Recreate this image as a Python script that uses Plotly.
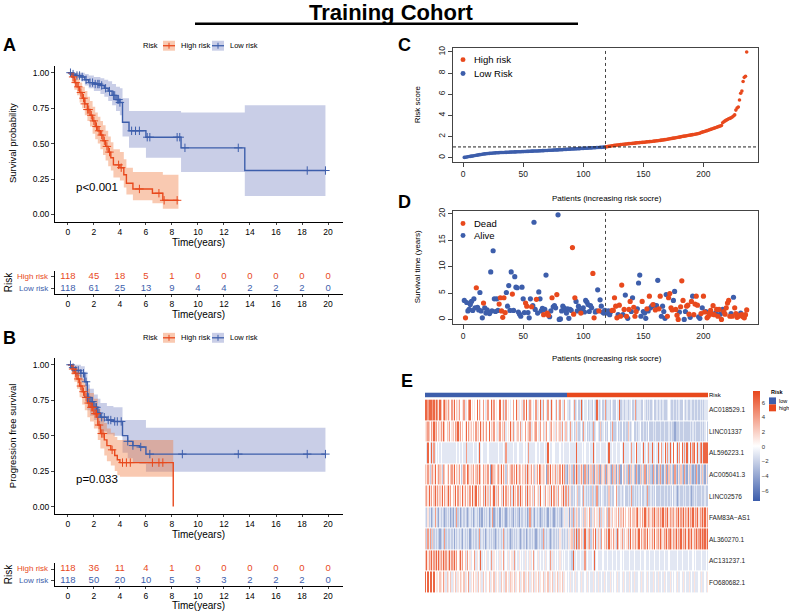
import plotly.graph_objects as go

W, H = 789, 613
RED = "#E8491D"
BLUE = "#3D5EAB"
RED_FILL = "rgba(240,120,60,0.40)"
BLUE_FILL = "rgba(60,80,170,0.28)"
FONT = "Arial, Liberation Sans, sans-serif"

# ---------------- Kaplan-Meier: overall survival (A) ----------------
a_hi_t = [0, 0.3, 0.5, 0.7, 0.9, 1.1, 1.3, 1.5, 1.7, 1.9, 2.1, 2.3, 2.5, 2.7, 2.9, 3.1, 3.3, 3.5, 4.0, 4.3, 4.5, 5.0, 6.5, 7.3, 8.5]
a_hi_s = [1, 0.97, 0.93, 0.90, 0.86, 0.82, 0.78, 0.74, 0.70, 0.66, 0.62, 0.59, 0.56, 0.52, 0.48, 0.44, 0.40, 0.35, 0.33, 0.28, 0.22, 0.18, 0.15, 0.10, 0.10]
a_hi_up = [1, 1, 0.98, 0.96, 0.93, 0.90, 0.87, 0.83, 0.80, 0.76, 0.72, 0.69, 0.66, 0.63, 0.59, 0.55, 0.51, 0.46, 0.44, 0.39, 0.33, 0.30, 0.30, 0.28, 0.28]
a_hi_lo = [1, 0.93, 0.88, 0.84, 0.79, 0.75, 0.70, 0.66, 0.62, 0.57, 0.53, 0.50, 0.46, 0.42, 0.38, 0.34, 0.31, 0.26, 0.24, 0.19, 0.14, 0.10, 0.08, 0.04, 0.04]
a_hi_cens = [0.4, 0.6, 0.8, 1.0, 1.2, 1.3, 1.5, 1.6, 1.8, 2.0, 2.2, 2.4, 2.6, 2.8, 3.0, 3.2, 3.9, 4.1, 5.5, 7.0, 7.4, 8.4]

a_lo_t = [0, 0.3, 0.6, 1.0, 1.3, 1.6, 2.0, 2.5, 2.8, 3.1, 3.4, 3.7, 4.0, 4.2, 4.7, 6.0, 8.7, 13.6, 19.8]
a_lo_s = [1, 0.99, 0.98, 0.97, 0.95, 0.93, 0.92, 0.91, 0.89, 0.87, 0.84, 0.81, 0.79, 0.65, 0.59, 0.545, 0.47, 0.31, 0.31]
a_lo_up = [1, 1, 1, 1, 0.99, 0.98, 0.97, 0.96, 0.95, 0.94, 0.92, 0.90, 0.89, 0.82, 0.73, 0.73, 0.72, 0.77, 0.77]
a_lo_lo = [1, 0.97, 0.96, 0.94, 0.91, 0.89, 0.87, 0.85, 0.83, 0.80, 0.77, 0.73, 0.70, 0.55, 0.47, 0.40, 0.30, 0.13, 0.13]
a_lo_cens = [0.2, 0.4, 0.7, 0.9, 1.1, 1.4, 1.7, 1.9, 2.1, 2.3, 2.4, 2.6, 2.9, 3.2, 3.5, 3.6, 3.8, 3.9, 4.0,
             4.9, 5.2, 5.5, 6.1, 6.3, 8.4, 8.6, 9.0, 13.1, 18.4, 19.8]

# ---------------- Kaplan-Meier: progression free survival (B) ----------------
b_hi_t = [0, 0.3, 0.5, 0.7, 0.9, 1.1, 1.3, 1.5, 1.7, 2.0, 2.3, 2.5, 2.8, 3.0, 3.3, 3.6, 3.8, 4.0, 8.1]
b_hi_s = [1, 0.97, 0.94, 0.90, 0.85, 0.81, 0.77, 0.73, 0.70, 0.655, 0.575, 0.515, 0.47, 0.43, 0.40, 0.36, 0.33, 0.31, 0.0]
b_hi_up = [1, 1, 0.99, 0.97, 0.93, 0.90, 0.86, 0.83, 0.80, 0.76, 0.69, 0.63, 0.59, 0.55, 0.52, 0.49, 0.47, 0.47, 0.47]
b_hi_lo = [1, 0.93, 0.88, 0.83, 0.77, 0.72, 0.68, 0.63, 0.60, 0.55, 0.47, 0.41, 0.36, 0.32, 0.29, 0.25, 0.22, 0.21, 0.21]
b_hi_cens = [0.4, 0.6, 0.8, 1.0, 1.2, 1.4, 1.6, 1.8, 1.9, 2.1, 2.2, 2.4, 2.6, 2.7, 3.4, 4.2, 4.5, 4.8, 6.5, 7.0, 7.3]

b_lo_t = [0, 0.3, 0.6, 1.0, 1.3, 1.5, 1.7, 2.0, 2.3, 2.5, 3.0, 3.5, 4.0, 4.2, 4.6, 5.0, 5.5, 6.0, 19.8]
b_lo_s = [1, 0.98, 0.96, 0.94, 0.88, 0.77, 0.74, 0.70, 0.66, 0.63, 0.61, 0.60, 0.60, 0.50, 0.46, 0.43, 0.42, 0.37, 0.37]
b_lo_up = [1, 1, 1, 0.99, 0.95, 0.86, 0.83, 0.79, 0.76, 0.73, 0.71, 0.70, 0.70, 0.61, 0.61, 0.61, 0.61, 0.555, 0.555]
b_lo_lo = [1, 0.95, 0.92, 0.88, 0.81, 0.68, 0.64, 0.61, 0.57, 0.53, 0.51, 0.50, 0.50, 0.38, 0.34, 0.31, 0.30, 0.245, 0.245]
b_lo_cens = [0.2, 0.4, 0.6, 0.8, 1.0, 1.2, 1.4, 1.5, 1.6, 1.8, 1.9, 2.1, 2.2, 2.4, 2.6, 2.8, 3.1, 3.3, 3.6, 3.8,
             4.1, 4.6, 5.0, 5.6, 6.3, 8.8, 13.1, 18.4, 19.8]

# number at risk tables
table_times = [0, 2, 4, 6, 8, 10, 12, 14, 16, 18, 20]
a_risk_hi = [118, 45, 18, 5, 1, 0, 0, 0, 0, 0, 0]
a_risk_lo = [118, 61, 25, 13, 9, 4, 4, 2, 2, 2, 0]
b_risk_hi = [118, 36, 11, 4, 1, 0, 0, 0, 0, 0, 0]
b_risk_lo = [118, 50, 20, 10, 5, 3, 3, 2, 2, 2, 0]

# ---------------- risk score curve (C) ----------------
low_scores = [0.03, 0.05, 0.07, 0.09, 0.11, 0.13, 0.15, 0.17, 0.19, 0.21,
              0.23, 0.25, 0.27, 0.29, 0.31, 0.33, 0.35, 0.36, 0.38, 0.39,
              0.40, 0.41, 0.42, 0.43, 0.44, 0.45, 0.46, 0.47, 0.47, 0.48,
              0.49, 0.49, 0.50, 0.50, 0.51, 0.51, 0.52, 0.52, 0.53, 0.53,
              0.54, 0.54, 0.55, 0.55, 0.56, 0.56, 0.57, 0.57, 0.58, 0.58,
              0.59, 0.59, 0.60, 0.60, 0.61, 0.61, 0.62, 0.62, 0.63, 0.63,
              0.64, 0.64, 0.65, 0.65, 0.66, 0.67, 0.67, 0.68, 0.68, 0.69,
              0.70, 0.70, 0.71, 0.71, 0.72, 0.73, 0.73, 0.74, 0.74, 0.75,
              0.76, 0.76, 0.77, 0.78, 0.78, 0.79, 0.80, 0.80, 0.81, 0.82,
              0.82, 0.83, 0.84, 0.84, 0.85, 0.86, 0.86, 0.87, 0.88, 0.88,
              0.89, 0.90, 0.90, 0.91, 0.92, 0.92, 0.93, 0.94, 0.94, 0.95,
              0.96, 0.96, 0.97, 0.98, 0.98, 0.99, 1.00, 1.01]
high_scores = [1.03, 1.05, 1.07, 1.09, 1.11, 1.13, 1.15, 1.17, 1.18, 1.20,
               1.21, 1.23, 1.24, 1.25, 1.27, 1.28, 1.29, 1.30, 1.32, 1.33,
               1.34, 1.35, 1.36, 1.37, 1.38, 1.40, 1.41, 1.42, 1.43, 1.44,
               1.45, 1.46, 1.47, 1.48, 1.50, 1.51, 1.52, 1.53, 1.54, 1.56,
               1.57, 1.58, 1.60, 1.61, 1.63, 1.64, 1.66, 1.68, 1.69, 1.71,
               1.73, 1.75, 1.77, 1.79, 1.81, 1.83, 1.85, 1.87, 1.89, 1.91,
               1.93, 1.95, 1.97, 2.00, 2.02, 2.04, 2.06, 2.08, 2.10, 2.12,
               2.14, 2.16, 2.18, 2.20, 2.22, 2.24, 2.26, 2.29, 2.32, 2.38,
               2.42, 2.45, 2.48, 2.52, 2.56, 2.60, 2.64, 2.68, 2.72, 2.76,
               2.80, 2.84, 2.88, 2.92, 2.96, 3.00, 3.05, 3.30, 3.40, 3.48,
               3.55, 3.62, 3.68, 3.72, 3.78, 3.85, 3.95, 4.05, 4.50, 4.70,
               4.80, 5.45, 6.10, 6.30, 7.20, 7.60, 7.70, 10.00]
cutoff = 1.02

# ---------------- survival time / status (D) ----------------
low_times = [3.6, 0.3, 3.2, 1.6, 1.9, 2.8, 3.4, 1.7, 3.9, 2.2,
             6.0, 2.3, 1.8, 5.1, 1.6, 0.3, 3.1, 2.2, 1.2, 1.8,
             1.4, 1.1, 9.0, 1.6, 13.0, 3.9, 1.5, 3.9, 1.7, 2.9,
             4.1, 1.6, 0.4, 4.1, 1.3, 5.1, 2.5, 6.4, 1.7, 9.0,
             4.8, 1.7, 8.1, 6.1, 6.0, 1.4, 1.0, 0.6, 6.1, 3.9,
             1.3, 3.1, 2.5, 1.3, 0.3, 3.9, 2.4, 2.6, 18.4, 1.9,
             3.8, 1.2, 5.2, 3.9, 1.6, 2.1, 0.9, 1.9, 8.4, 1.2,
             0.8, 0.5, 1.6, 4.1, 2.4, 2.6, 2.2, 4.7, 19.8, 0.0,
             0.1, 1.6, 2.5, 2.2, 1.9, 1.2, 2.0, 0.2, 1.9, 1.7,
             13.6, 1.0, 4.1, 3.4, 1.6, 2.5, 1.8, 1.2, 1.6, 2.2,
             1.4, 3.6, 3.3, 2.8, 1.5, 2.6, 2.2, 8.7, 0.3, 1.4,
             1.6, 5.6, 1.6, 3.7, 2.5, 1.4, 1.2, 1.7]
low_dead = [0, 1, 0, 0, 0, 0, 0, 0, 0, 0,
            1, 0, 0, 0, 0, 0, 1, 0, 0, 0,
            0, 0, 0, 0, 0, 0, 0, 0, 0, 1,
            1, 1, 1, 1, 1, 0, 0, 0, 0, 0,
            1, 0, 0, 0, 0, 0, 0, 0, 0, 0,
            0, 1, 1, 0, 0, 0, 1, 0, 0, 0,
            1, 0, 0, 0, 0, 0, 1, 0, 0, 1,
            1, 0, 0, 1, 0, 0, 0, 1, 0, 0,
            0, 0, 0, 0, 0, 0, 0, 0, 0, 0,
            1, 1, 1, 0, 0, 0, 0, 1, 0, 0,
            0, 0, 0, 0, 0, 0, 0, 1, 1, 0,
            0, 0, 1, 0, 0, 0, 0, 0]
high_times = [1.4, 1.2, 1.6, 0.9, 1.5, 1.7, 1.7, 4.1, 2.5, 0.3,
              0.9, 2.7, 0.6, 6.5, 0.9, 1.9, 4.6, 0.6, 0.2, 1.9,
              3.4, 1.5, 4.1, 2.3, 0.6, 1.5, 2.0, 6.9, 8.4, 0.6,
              3.4, 1.5, 1.2, 0.2, 2.0, 1.6, 4.4, 2.2, 2.5, 2.8,
              2.7, 1.8, 2.6, 7.4, 2.0, 4.4, 0.6, 2.5, 1.5, 0.2,
              4.7, 0.6, 4.1, 4.9, 2.2, 1.8, 3.6, 5.3, 1.9, 0.8,
              0.0, 1.4, 2.4, 7.3, 3.6, 0.0, 1.5, 2.5, 2.7, 1.0,
              0.4, 3.4, 4.4, 0.9, 2.9, 4.4, 2.7, 0.5, 0.2, 1.1,
              2.2, 4.4, 1.4, 1.5, 0.3, 0.6, 1.2, 1.7, 1.0, 2.6,
              0.9, 1.2, 1.9, 0.6, 1.9, 1.0, 0.0, 1.9, 1.5, 1.0,
              2.2, 3.1, 3.6, 0.6, 1.1, 0.6, 4.2, 2.2, 1.1, 0.4,
              0.6, 0.7, 1.2, 0.9, 0.5, 0.3, 0.9, 1.8]
high_dead = [0, 0, 0, 0, 0, 1, 1, 1, 1, 1,
             0, 1, 1, 1, 0, 1, 0, 1, 0, 1,
             1, 0, 0, 1, 1, 1, 0, 0, 0, 0,
             1, 0, 0, 0, 1, 0, 1, 0, 0, 1,
             0, 1, 0, 0, 1, 1, 0, 0, 0, 0,
             0, 1, 1, 1, 1, 1, 0, 0, 1, 1,
             1, 0, 1, 1, 1, 0, 0, 1, 1, 1,
             0, 1, 0, 1, 1, 1, 1, 0, 0, 1,
             0, 1, 1, 0, 1, 1, 1, 1, 1, 1,
             1, 0, 1, 1, 1, 0, 1, 0, 1, 1,
             1, 1, 1, 1, 0, 1, 0, 1, 1, 1,
             1, 1, 0, 1, 1, 1, 1, 1]

# ---------------- expression heatmap (E) ----------------
genes = ["AC018529.1", "LINC01337", "AL596223.1", "AC005041.3", "LINC02576",
         "FAM83A\u2212AS1", "AL360270.1", "AC131237.1", "FO680682.1"]
# one character per patient, low-risk block then high-risk block
expr_low = [
    "8878887868 7586478657 5475846574 4573547845 4548475474 3574485745 4484573745 4347448534 5374843754 3473548374 4374385437 43743374",
    "5676475867 4657586465 7456476857 4645847564 6475648574 5748465745 3574657345 4857345647 3547456735 4674537463 5743674536 45637436",
    "4384383734 3434333333 3333334343 3433733333 4334383433 3343333333 3433343733 3334333433 3343437333 3343343334 3384334433 33433433",
    "6575267584 5765276457 4675846574 2576487565 7467586475 6574187654 6758475264 5675748576 4657386574 6257487565 4175846573 65748572",
    "6758574685 7565847568 5746584756 4857465748 5684756473 8563745836 5746384756 4738564738 5647385646 3745638453 7456384756 37465837",
    "3252312373 2132321232 3121327231 2323212323 1232312132 3231237123 2313232123 2321323213 2232312723 2132321232 3213232123 23212353",
    "6273726232 3212327232 2323132323 2132323123 2323272323 1232323212 3232372323 2123232321 2323123232 3212323272 3232123232 32532323",
    "6857685768 5867586756 8576857468 5746374534 4735438343 4534373543 4353473435 3453734354 3435343534 7343534343 5343735343 43534343",
    "8484884845 5465475365 4635463546 5463547354 6453645364 3546354635 4536453645 3654635463 5463546354 6354635463 5463546354 63546354",
]
expr_high = [
    "3323437234 2382433423 3243283234 2372332432 2433823323 3233423723 3322432323 2342232332 3222343223 2323322432 3223323223 23232333",
    "3437342363 2342734232 3272343262 3423242372 2342324223 2632342232 3422323242 2232322232 2322232322 1222322322 2223232322 23232342",
    "3343333383 3334343334 3383433343 3334383343 3433343833 3343733483 3343834373 3833438347 3483738348 4383748373 8348378438 37838888",
    "1565271586 2575172615 6271562716 5271652172 6152714625 2716252172 1625271526 2172516272 1527162521 7215262172 1526212172 15262152",
    "3735232436 2342732323 2623272324 3223262322 4732232342 2323723232 3242232722 3232422232 2322323242 3212322323 2232123232 22322322",
    "3515272365 2435263547 2536453726 3546275364 5647365746 4657466578 5647586576 5768567576 8576857667 5768576857 6857685768 57686857",
    "2535627382 7465283567 2574836527 4657385647 5286457364 5738465756 8475675846 5758467586 5768578657 6857685768 5876857686 78687868",
    "3433283343 3433373433 3438343333 4333433343 3433343433 3343334333 3433343334 3334333433 3433343333 3343334333 3433343433 33433343",
    "3435343533 4353343534 3353435334 3534335343 4353343534 3353435333 4353343534 3353435334 3534335343 4353343534 3353435333 43533435",
]
levels = {"0": -6.0, "1": -4.0, "2": -2.3, "3": -1.1, "4": 0.0, "5": 1.1, "6": 2.3, "7": 4.0, "8": 6.2}


def px(x):
    return x / W


def py(y):
    return 1 - y / H


def dom_x(a, b):
    return [a / W, b / W]


def dom_y(top, bottom):
    return [1 - bottom / H, 1 - top / H]


def step_at(ts, ss, t):
    v = ss[0]
    for ti, si in zip(ts, ss):
        if ti <= t:
            v = si
    return v


fig = go.Figure()


def km_panel(xa, ya, curves):
    # bands first, then lines, then censor marks
    for t, s, up, lo, cens, col, fill in curves:
        fig.add_trace(go.Scatter(x=t, y=up, mode="lines", line=dict(width=0, shape="hv"),
                                 xaxis=xa, yaxis=ya, hoverinfo="skip"))
        fig.add_trace(go.Scatter(x=t, y=lo, mode="lines", line=dict(width=0, shape="hv"),
                                 fill="tonexty", fillcolor=fill, xaxis=xa, yaxis=ya, hoverinfo="skip"))
    for t, s, up, lo, cens, col, fill in curves:
        fig.add_trace(go.Scatter(x=t, y=s, mode="lines", line=dict(color=col, width=1.4, shape="hv"),
                                 xaxis=xa, yaxis=ya))
    for t, s, up, lo, cens, col, fill in curves:
        fig.add_trace(go.Scatter(x=cens, y=[step_at(t, s, c) for c in cens], mode="markers",
                                 marker=dict(symbol="cross-thin", size=6, line=dict(width=1, color=col)),
                                 xaxis=xa, yaxis=ya))


km_panel("x", "y", [
    (a_lo_t, a_lo_s, a_lo_up, a_lo_lo, a_lo_cens, BLUE, BLUE_FILL),
    (a_hi_t, a_hi_s, a_hi_up, a_hi_lo, a_hi_cens, RED, RED_FILL),
])
km_panel("x3", "y3", [
    (b_lo_t, b_lo_s, b_lo_up, b_lo_lo, b_lo_cens, BLUE, BLUE_FILL),
    (b_hi_t, b_hi_s, b_hi_up, b_hi_lo, b_hi_cens, RED, RED_FILL),
])

# risk tables
for xa, ya, hi, lo in [("x2", "y2", a_risk_hi, a_risk_lo), ("x4", "y4", b_risk_hi, b_risk_lo)]:
    fig.add_trace(go.Scatter(x=table_times, y=[1] * len(hi), mode="text", text=[str(v) for v in hi],
                             textfont=dict(color=RED, size=9.5, family=FONT), xaxis=xa, yaxis=ya))
    fig.add_trace(go.Scatter(x=table_times, y=[0] * len(lo), mode="text", text=[str(v) for v in lo],
                             textfont=dict(color=BLUE, size=9.5, family=FONT), xaxis=xa, yaxis=ya))

# C: risk score
n_low = len(low_scores)
n_all = n_low + len(high_scores)
fig.add_trace(go.Scatter(x=list(range(1, n_low + 1)), y=low_scores, mode="markers",
                         marker=dict(color=BLUE, size=3.6), xaxis="x5", yaxis="y5"))
fig.add_trace(go.Scatter(x=list(range(n_low + 1, n_all + 1)), y=high_scores, mode="markers",
                         marker=dict(color=RED, size=3.6), xaxis="x5", yaxis="y5"))

# D: survival status
all_times = low_times + high_times
all_dead = low_dead + high_dead
pid = list(range(1, n_all + 1))
fig.add_trace(go.Scatter(x=[p for p, d in zip(pid, all_dead) if d == 0],
                         y=[t for t, d in zip(all_times, all_dead) if d == 0], mode="markers",
                         marker=dict(color=BLUE, size=5.2), xaxis="x6", yaxis="y6"))
fig.add_trace(go.Scatter(x=[p for p, d in zip(pid, all_dead) if d == 1],
                         y=[t for t, d in zip(all_times, all_dead) if d == 1], mode="markers",
                         marker=dict(color=RED, size=5.2), xaxis="x6", yaxis="y6"))

# E: annotation bar + heatmap
risk_group = [0] * n_low + [1] * len(high_scores)
fig.add_trace(go.Heatmap(z=[risk_group], x=pid, y=["Risk"], colorscale=[[0, BLUE], [1, RED]],
                         zmin=0, zmax=1, showscale=False, xaxis="x7", yaxis="y7"))
Z = []
for lo_row, hi_row in zip(expr_low, expr_high):
    row = (lo_row + hi_row).replace(" ", "")
    Z.append([levels[c] for c in row])
fig.add_trace(go.Heatmap(
    z=Z, x=pid, y=genes, xaxis="x8", yaxis="y8", ygap=1,
    colorscale=[[0, "#3B5CAB"], [0.5, "#FFFFFF"], [1, "#E8461C"]], zmin=-7.5, zmax=7.5,
    colorbar=dict(x=px(753), xanchor="left", y=py(391), yanchor="top", len=110, lenmode="pixels",
                  thickness=7, thicknessmode="pixels", outlinewidth=0, ticks="",
                  tickvals=[-6, -4, -2, 0, 2, 4, 6], tickfont=dict(size=6, color="#333", family=FONT),
                  xpad=0, ypad=0)))

fig.update_traces(showlegend=False)

km_x = dict(range=[-0.99, 21.15], tickvals=table_times, ticks="outside", ticklen=2, showline=True,
            linecolor="black", linewidth=1, showgrid=False, zeroline=False,
            tickfont=dict(size=8.5, color="black", family=FONT))
km_y = dict(range=[-0.05, 1.05], tickvals=[0, 0.25, 0.5, 0.75, 1], tickformat=".2f", ticks="outside",
            ticklen=3, showline=True, linecolor="black", linewidth=1, showgrid=False, zeroline=False,
            tickfont=dict(size=8.5, color="black", family=FONT))
tab_y = dict(range=[-0.5, 1.5], tickvals=[0, 1], showticklabels=False, ticks="outside", ticklen=3,
             showline=True, linecolor="black", linewidth=1, showgrid=False, zeroline=False)
r_axis = dict(ticks="outside", ticklen=4, showline=True, mirror=True, linecolor="#444", linewidth=1,
              showgrid=False, zeroline=False, tickfont=dict(size=8.5, color="#222", family=FONT))

fig.update_layout(
    width=W, height=H, margin=dict(l=0, r=0, t=0, b=0),
    paper_bgcolor="white", plot_bgcolor="white", font=dict(family=FONT),
    xaxis=dict(km_x, domain=dom_x(55, 343), anchor="y"),
    yaxis=dict(km_y, domain=dom_y(63, 220), anchor="x"),
    xaxis2=dict(km_x, domain=dom_x(55, 343), anchor="y2"),
    yaxis2=dict(tab_y, domain=dom_y(270, 293), anchor="x2"),
    xaxis3=dict(km_x, domain=dom_x(55, 343), anchor="y3"),
    yaxis3=dict(km_y, domain=dom_y(357, 514), anchor="x3"),
    xaxis4=dict(km_x, domain=dom_x(55, 343), anchor="y4"),
    yaxis4=dict(tab_y, domain=dom_y(564, 587), anchor="x4"),
    xaxis5=dict(r_axis, domain=dom_x(453, 758), anchor="y5", range=[-8.4, 245.4], tickvals=[0, 50, 100, 150, 200]),
    yaxis5=dict(r_axis, domain=dom_y(45, 160), anchor="x5", range=[-0.4, 10.4], tickvals=[0, 2, 4, 6, 8, 10], tickangle=-90),
    xaxis6=dict(r_axis, domain=dom_x(453, 758), anchor="y6", range=[-8.4, 245.4], tickvals=[0, 50, 100, 150, 200]),
    yaxis6=dict(r_axis, domain=dom_y(209, 323), anchor="x6", range=[-0.85, 20.6], tickvals=[0, 5, 10, 15, 20], tickangle=-90),
    xaxis7=dict(domain=dom_x(425, 708), anchor="y7", visible=False, range=[0.5, n_all + 0.5]),
    yaxis7=dict(domain=dom_y(392, 397), anchor="x7", side="right", ticks="", showgrid=False,
                tickfont=dict(size=6, color="black", family=FONT)),
    xaxis8=dict(domain=dom_x(425, 708), anchor="y8", visible=False, range=[0.5, n_all + 0.5]),
    yaxis8=dict(domain=dom_y(399, 594), anchor="x8", side="right", ticks="", showgrid=False,
                autorange="reversed", tickfont=dict(size=6.5, color="#222", family=FONT)),
)

shapes = []
ann = []


def text(x, y, s, size=9, color="black", anchor="center", angle=0, bold=False):
    ann.append(dict(x=px(x), y=py(y), xref="paper", yref="paper", text=f"<b>{s}</b>" if bold else s,
                    showarrow=False, xanchor=anchor, yanchor="middle", textangle=angle,
                    font=dict(size=size, color=color, family=FONT)))


# title
text(391, 10, "Training Cohort", size=22, bold=True)
shapes.append(dict(type="line", xref="paper", yref="paper", x0=px(195), x1=px(578), y0=py(21), y1=py(21),
                   line=dict(color="black", width=2.5)))

# panel letters
for lx, ly, s in [(9, 42, "A"), (9, 337, "B"), (404, 42, "C"), (404, 200, "D"), (407, 380, "E")]:
    text(lx, ly, s, size=18, bold=True)

# KM legends, axis titles, p-values, table labels
for ly in [43, 337]:
    text(150, ly, "Risk", size=7.5)
    for x0, col, fill, lab in [(163, RED, RED_FILL, "High risk"), (212, BLUE, BLUE_FILL, "Low risk")]:
        shapes.append(dict(type="rect", xref="paper", yref="paper", x0=px(x0), x1=px(x0 + 12),
                           y0=py(ly - 5), y1=py(ly + 5), fillcolor=fill, line=dict(width=0)))
        shapes.append(dict(type="line", xref="paper", yref="paper", x0=px(x0), x1=px(x0 + 12),
                           y0=py(ly), y1=py(ly), line=dict(color=col, width=1.3)))
        shapes.append(dict(type="line", xref="paper", yref="paper", x0=px(x0 + 6), x1=px(x0 + 6),
                           y0=py(ly - 3), y1=py(ly + 3), line=dict(color=col, width=1)))
        text(x0 + 16, ly, lab, size=7.5, anchor="left")

text(12, 141, "Survival probability", size=9.5, angle=-90)
text(12, 436, "Progression free survival", size=9.5, angle=-90)
text(97, 185, "p<0.001", size=11.5)
text(97, 479, "p=0.033", size=11.5)
for ty in [241, 314, 535, 606]:
    text(199, ty, "Time(years)", size=10)
for hy, ly, ry in [(275, 287, 281), (569, 581, 575)]:
    text(51, hy, "High risk", size=8, color=RED, anchor="right")
    text(51, ly, "Low risk", size=8, color=BLUE, anchor="right")
    text(8, ry, "Risk", size=10, angle=-90)

# C / D titles, legends, cut lines
text(417, 102, "Risk score", size=8, angle=-90)
text(607, 197, "Patients (increasing risk socre)", size=8)
text(417, 266, "Survival time (years)", size=8, angle=-90)
text(607, 358, "Patients (increasing risk socre)", size=8)
for cy, col, lab in [(57, RED, "High risk"), (71, BLUE, "Low Risk"), (222, RED, "Dead"), (234, BLUE, "Alive")]:
    shapes.append(dict(type="circle", xref="paper", yref="paper", x0=px(460.5), x1=px(465.5),
                       y0=py(cy - 2.5), y1=py(cy + 2.5), fillcolor=col, line=dict(width=0)))
    text(472, cy, lab, size=9.5, anchor="left")

split = n_low + 0.5
for xa, ya in [("x5", "y5"), ("x6", "y6")]:
    shapes.append(dict(type="line", xref=xa, yref=ya + " domain", x0=split, x1=split, y0=0, y1=1,
                       line=dict(color="#444", width=1, dash="dot")))
shapes.append(dict(type="line", xref="x5 domain", yref="y5", x0=0, x1=1, y0=cutoff, y1=cutoff,
                   line=dict(color="#222", width=1, dash="3px,2px")))

# heatmap annotation legend
text(769, 392, "Risk", size=5.5, anchor="left", bold=True)
for sy, col, lab in [(397, BLUE, "low"), (404, RED, "high")]:
    shapes.append(dict(type="rect", xref="paper", yref="paper", x0=px(769), x1=px(776),
                       y0=py(sy + 7), y1=py(sy), fillcolor=col, line=dict(width=0)))
    text(777, sy + 3.5, lab, size=5.5, anchor="left")

fig.update_layout(shapes=shapes, annotations=ann)
# the page's default body margin would push the figure 8px off the window
fig.write_html("out.html", config={"displayModeBar": False},
               post_script="document.body.style.margin='0px';")
